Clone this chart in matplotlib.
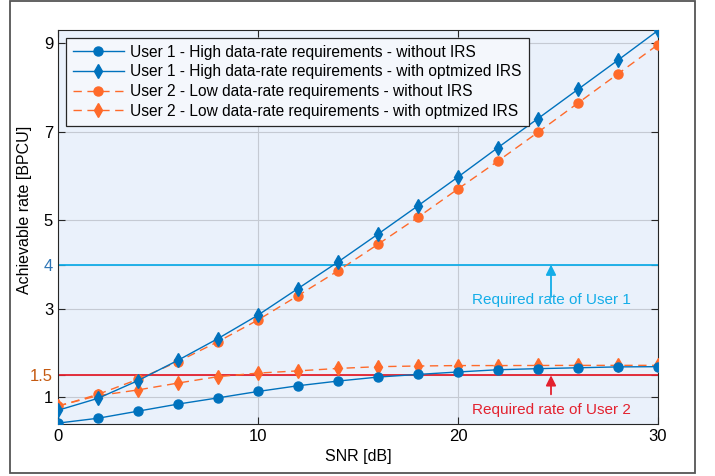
import matplotlib
matplotlib.use("Agg")
import matplotlib.pyplot as plt
from matplotlib.patches import Rectangle

plt.rcParams['font.family'] = ['Liberation Sans', 'DejaVu Sans']

snr = [0, 2, 4, 6, 8, 10, 12, 14, 16, 18, 20, 22, 24, 26, 28, 30]
u1_no_irs = [0.42, 0.53, 0.69, 0.85, 0.99, 1.135, 1.264, 1.37, 1.46, 1.52, 1.575, 1.626, 1.65, 1.67, 1.69, 1.695]
u1_irs = [0.71, 0.98, 1.38, 1.84, 2.33, 2.86, 3.46, 4.06, 4.69, 5.33, 5.98, 6.645, 7.30, 7.96, 8.62, 9.29]
u2_no_irs = [0.80, 1.07, 1.41, 1.81, 2.26, 2.75, 3.30, 3.86, 4.46, 5.07, 5.71, 6.34, 6.99, 7.65, 8.31, 8.97]
u2_irs = [0.81, 1.04, 1.17, 1.325, 1.47, 1.55, 1.60, 1.655, 1.695, 1.71, 1.72, 1.72, 1.722, 1.724, 1.725, 1.725]

req_u1 = 4.0
req_u2 = 1.5
yticks = [1, 1.5, 3, 4, 5, 7, 9]
ytick_labels = ['1', '1.5', '3', '4', '5', '7', '9']
xticks = [0, 10, 20, 30]
labels = ['User 1 - High data-rate requirements - without IRS',
          'User 1 - High data-rate requirements - with optmized IRS',
          'User 2 - Low data-rate requirements - without IRS',
          'User 2 - Low data-rate requirements - with optmized IRS']

blue = '#0072BD'
orange = '#FF6A2A'
cyan = '#13ADE8'
red = '#E3212E'

fig = plt.figure(figsize=(7.15, 4.76), dpi=100)
fig.patches.append(Rectangle((10/715, 3/476), 685/715, 472.5/476, transform=fig.transFigure,
                             fill=False, edgecolor='#555555', linewidth=1.3))
ax = fig.add_axes([58/715, 1-424/476, 600/715, 394/476])
ax.set_facecolor('#EAF1FB')

ax.axhline(req_u1, color=cyan, lw=1.3, zorder=2)
ax.axhline(req_u2, color=red, lw=1.3, zorder=2)

ax.plot(snr, u1_no_irs, '-o', color=blue, lw=1.0, ms=6.5, label=labels[0], zorder=4)
ax.plot(snr, u1_irs, '-d', color=blue, lw=1.0, ms=7, label=labels[1], zorder=4)
ax.plot(snr, u2_no_irs, '--o', color=orange, mfc=orange, mec=orange, lw=1.0, ms=6.5,
        dashes=(6, 4), label=labels[2], zorder=3)
ax.plot(snr, u2_irs, '--d', color=orange, mfc=orange, mec=orange, lw=1.0, ms=7,
        dashes=(6, 4), label=labels[3], zorder=3)

allv = u1_no_irs + u1_irs + u2_no_irs + u2_irs
ax.set_xlim(min(snr), max(snr))
ax.set_ylim(min(allv) - 0.02, max(allv) + 0.01)

ax.set_xticks(xticks)
ax.set_yticks(yticks)
ax.set_yticklabels(ytick_labels)
ax.tick_params(direction='in', length=5, width=0.8, labelsize=12, colors='#262626',
               top=True, right=True, labelcolor='black')
ax.get_yticklabels()[3].set_color('#2E75B6')
ax.get_yticklabels()[1].set_color('#C55A11')
ax.grid(True, color='#C5CAD3', lw=0.8, zorder=1)
ax.set_axisbelow(True)
for s in ax.spines.values():
    s.set_color('#262626')
    s.set_linewidth(0.8)

ax.set_xlabel('SNR [dB]', fontsize=11.5, labelpad=4)
ax.set_ylabel('Achievable rate [BPCU]', fontsize=11.5)
ax.yaxis.set_label_coords(-26/600, (424-210)/394)

ax.annotate('', xy=(24.65, req_u1), xytext=(24.65, 3.27),
            arrowprops=dict(arrowstyle='-|>', color=cyan, lw=1.3, mutation_scale=15,
                            shrinkA=0, shrinkB=0))
ax.text(24.65, 3.2, 'Required rate of User 1', color=cyan, ha='center', va='center', fontsize=11)
ax.annotate('', xy=(24.65, req_u2), xytext=(24.65, 1.07),
            arrowprops=dict(arrowstyle='-|>', color=red, lw=1.3, mutation_scale=15,
                            shrinkA=0, shrinkB=0))
ax.text(24.65, 0.72, 'Required rate of User 2', color=red, ha='center', va='center', fontsize=11)

leg = ax.legend(loc='upper left', fontsize=11.2, handlelength=3.3, frameon=True, fancybox=False,
                borderpad=0.45, labelspacing=0.3, handletextpad=0.4, borderaxespad=0.5)
leg.get_frame().set_edgecolor('#262626')
leg.get_frame().set_facecolor('#F4F7FC')
leg.get_frame().set_alpha(1)
leg.get_frame().set_linewidth(0.9)

fig.savefig('out.png', dpi=100)
